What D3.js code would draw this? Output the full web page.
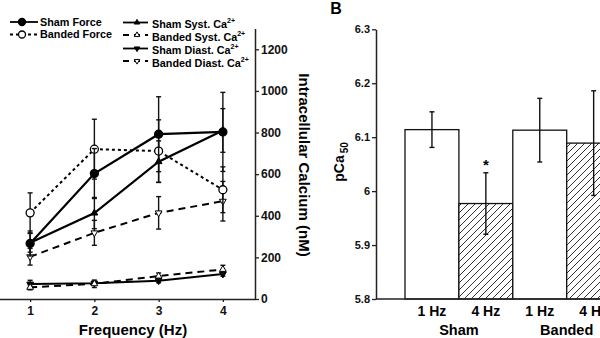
<!DOCTYPE html>
<html><head><meta charset="utf-8">
<script src="https://cdn.jsdelivr.net/npm/d3@7"></script>
<style>
html,body{margin:0;padding:0;background:#fff;}
svg{display:block;font-family:"Liberation Sans",Arial,sans-serif;font-weight:bold;}
</style></head>
<body><svg id="c" width="600" height="338"></svg>
<script>
// ---------- Panel A data ----------
const freqs = [1, 2, 3, 4];
const caTicks = [0, 200, 400, 600, 800, 1000, 1200];
// Force values are expressed in the plotted position relative to the calcium axis
const shamForce = [267, 603, 792, 803];
const shamForceErr = [60, 120, 180, 190];
const bandedForce = [414, 720, 711, 525];
const bandedForceErr = [96, 144, 150, 110];
const shamSystCa = [270, 413, 660, 810];
const shamSystCaErr = [45, 75, 100, 105];
const bandedDiastCa = [203, 318, 414, 470];
const bandedDiastCaErr = [40, 60, 78, 95];
const shamDiastCa = [72, 76, 88, 120];
const shamDiastCaErr = [18, 10, 10, 10];
const bandedSystCa = [56, 73, 110, 142];
const bandedSystCaErr = [12, 18, 15, 20];

// ---------- Panel B data ----------
const barKeys = ["S1", "S4", "B1", "B4"];
const barFreqLabels = ["1 Hz", "4 Hz", "1 Hz", "4 Hz"];
const groupLabels = ["Sham", "Banded"];
const pCa50 = [6.114, 5.977, 6.113, 6.089];
const pCa50Err = [0.033, 0.057, 0.059, 0.097];
const pCaTicks = [5.8, 5.9, 6.0, 6.1, 6.2, 6.3];

const svg = d3.select("#c");

// hatch pattern
const defs = svg.append("defs");
const pat = defs.append("pattern").attr("id","hatch").attr("patternUnits","userSpaceOnUse")
  .attr("width",7).attr("height",7);
pat.append("rect").attr("width",7).attr("height",7).attr("fill","#fff");
pat.append("path").attr("d","M-1,1 l2,-2 M0,7 l7,-7 M6,8 l2,-2")
  .attr("stroke","#333").attr("stroke-width",1);

// ================= Panel A =================
const x = d3.scaleLinear().domain([0.5, 4.5]).range([-2, 255]);
const y = d3.scaleLinear().domain([0, 1300]).range([299, 28.5]);

const gA = svg.append("g");

// right axis
const ax = gA.append("g").attr("transform","translate(255,0)")
  .call(d3.axisRight(y).tickValues(caTicks).tickFormat(d3.format("d")).tickSize(4).tickPadding(2).tickSizeOuter(0));
ax.select(".domain").attr("stroke","#222").attr("stroke-width",1.5);
ax.selectAll(".tick line").attr("stroke","#222").attr("stroke-width",1.3);
ax.selectAll(".tick text").attr("font-size","12px").attr("font-weight","bold")
  .attr("font-family","Liberation Sans, Arial").attr("fill","#111");

// bottom axis
const bx = gA.append("g").attr("transform","translate(0,299)")
  .call(d3.axisBottom(x).tickValues(freqs).tickFormat(d3.format("d")).tickSize(3).tickPadding(4).tickSizeOuter(0));
bx.select(".domain").attr("stroke","#222").attr("stroke-width",1.5);
bx.selectAll(".tick line").attr("stroke","#222").attr("stroke-width",1.3);
bx.selectAll(".tick text").attr("font-size","12px").attr("font-weight","bold")
  .attr("font-family","Liberation Sans, Arial").attr("fill","#111");

gA.append("text").attr("x",133).attr("y",335).attr("text-anchor","middle")
  .attr("font-size","15px").text("Frequency (Hz)");
gA.append("text").attr("transform","translate(299,165) rotate(90)").attr("text-anchor","middle")
  .attr("font-size","15px").text("Intracellular Calcium (nM)");

const series = [
  {name:"Sham Diast", v:shamDiastCa, e:shamDiastCaErr, dash:null, w:2, marker:"tridown", fill:"#000"},
  {name:"Banded Syst", v:bandedSystCa, e:bandedSystCaErr, dash:"7,5", w:2, marker:"triup", fill:"#fff"},
  {name:"Banded Diast", v:bandedDiastCa, e:bandedDiastCaErr, dash:"7,5", w:2, marker:"tridown", fill:"#fff"},
  {name:"Sham Syst", v:shamSystCa, e:shamSystCaErr, dash:null, w:2.2, marker:"triup", fill:"#000"},
  {name:"Banded Force", v:bandedForce, e:bandedForceErr, dash:"3,3", w:2, marker:"circle", fill:"#fff"},
  {name:"Sham Force", v:shamForce, e:shamForceErr, dash:null, w:2.2, marker:"circle", fill:"#000"}
];

const line = d3.line().x((d,i)=>x(freqs[i])).y(d=>y(d));

function drawMarker(g, type, cx, cy, fill, s) {
  if (type === "circle") {
    g.append("circle").attr("cx",cx).attr("cy",cy).attr("r",s)
      .attr("fill",fill).attr("stroke","#000").attr("stroke-width",1.3);
  } else {
    const sym = d3.symbol().type(d3.symbolTriangle).size(s*s*2.2);
    g.append("path").attr("d",sym())
      .attr("transform",`translate(${cx},${cy})` + (type==="tridown"?" rotate(180)":""))
      .attr("fill",fill).attr("stroke","#000").attr("stroke-width",1);
  }
}

series.forEach(s => {
  s.v.forEach((v,i) => {
    const cx = x(freqs[i]);
    const g = gA.append("g").attr("stroke","#111").attr("stroke-width",1.4);
    g.append("line").attr("x1",cx).attr("x2",cx).attr("y1",y(v - s.e[i])).attr("y2",y(v + s.e[i]));
    g.append("line").attr("x1",cx-2.5).attr("x2",cx+2.5).attr("y1",y(v + s.e[i])).attr("y2",y(v + s.e[i]));
    g.append("line").attr("x1",cx-2.5).attr("x2",cx+2.5).attr("y1",y(v - s.e[i])).attr("y2",y(v - s.e[i]));
  });
  gA.append("path").attr("d",line(s.v)).attr("fill","none").attr("stroke","#000")
    .attr("stroke-width",s.w).attr("stroke-dasharray",s.dash);
  s.v.forEach((v,i) => drawMarker(gA, s.marker, x(freqs[i]), y(v), s.fill, s.marker==="circle"?4:3));
});

// legends
const leg1 = [
  {label:"Sham Force", dash:null, marker:"circle", fill:"#000", y:22},
  {label:"Banded Force", dash:"3,3", marker:"circle", fill:"#fff", y:34.5}
];
leg1.forEach(l => {
  gA.append("line").attr("x1",10).attr("x2",38).attr("y1",l.y).attr("y2",l.y)
    .attr("stroke","#000").attr("stroke-width",1.8).attr("stroke-dasharray",l.dash);
  drawMarker(gA, l.marker, 22, l.y, l.fill, 3.5);
  gA.append("text").attr("x",40).attr("y",l.y+3.8).attr("font-size","10.8px").text(l.label);
});
const leg2 = [
  {label:"Sham Syst. Ca", dash:null, marker:"triup", fill:"#000", y:23.5},
  {label:"Banded Syst. Ca", dash:"6,5", marker:"triup", fill:"#fff", y:36},
  {label:"Sham Diast. Ca", dash:null, marker:"tridown", fill:"#000", y:49.5},
  {label:"Banded Diast. Ca", dash:"6,5", marker:"tridown", fill:"#fff", y:62}
];
leg2.forEach(l => {
  gA.append("line").attr("x1",123).attr("x2",148).attr("y1",l.y-1).attr("y2",l.y-1)
    .attr("stroke","#000").attr("stroke-width",1.8).attr("stroke-dasharray",l.dash);
  drawMarker(gA, l.marker, 137, l.y-1, l.fill, 2.4);
  const t = gA.append("text").attr("x",152).attr("y",l.y+4.5).attr("font-size","10.8px").text(l.label);
  t.append("tspan").attr("font-size","7px").attr("dy",-5).text("2+");
});

// ================= Panel B =================
const yb = d3.scaleLinear().domain([5.8, 6.3]).range([299, 29.3]);
const xb = d3.scaleBand().domain(barKeys).range([405, 620.6]).padding(0);
const gB = svg.append("g");

gB.append("text").attr("x",336).attr("y",14).attr("text-anchor","middle")
  .attr("font-size","16px").text("B");

barKeys.forEach((k,i) => {
  gB.append("rect").attr("x",xb(k)).attr("y",yb(pCa50[i]))
    .attr("width",xb.bandwidth()).attr("height",yb(5.8)-yb(pCa50[i]))
    .attr("fill", i%2===1 ? "url(#hatch)" : "#fff")
    .attr("stroke","#111").attr("stroke-width",1.3);
});
barKeys.forEach((k,i) => {
  const cx = xb(k) + xb.bandwidth()/2;
  const g = gB.append("g").attr("stroke","#111").attr("stroke-width",1.4);
  const t = yb(pCa50[i] + pCa50Err[i]), b = yb(pCa50[i] - pCa50Err[i]);
  g.append("line").attr("x1",cx).attr("x2",cx).attr("y1",t).attr("y2",b);
  g.append("line").attr("x1",cx-2.5).attr("x2",cx+2.5).attr("y1",t).attr("y2",t);
  g.append("line").attr("x1",cx-2.5).attr("x2",cx+2.5).attr("y1",b).attr("y2",b);
  gB.append("text").attr("x",cx).attr("y",316).attr("text-anchor","middle")
    .attr("font-size","14px").text(barFreqLabels[i]);
});
gB.append("text").attr("x", xb("S4")+xb.bandwidth()/2).attr("y", yb(pCa50[1]+pCa50Err[1]) - 3)
  .attr("text-anchor","middle").attr("font-size","15px").text("*");
gB.append("text").attr("x", xb("S4")).attr("y",335).attr("text-anchor","middle")
  .attr("font-size","14.5px").text(groupLabels[0]);
gB.append("text").attr("x", xb("B4")).attr("y",335).attr("text-anchor","middle")
  .attr("font-size","14.5px").text(groupLabels[1]);

const ay = gB.append("g").attr("transform","translate(376,0)")
  .call(d3.axisLeft(yb).tickValues(pCaTicks).tickSize(4).tickPadding(2).tickSizeOuter(0)
    .tickFormat(d => Math.abs(d-6)<1e-9 ? "6" : d3.format(".1f")(d)));
ay.select(".domain").attr("stroke","#222").attr("stroke-width",1.5);
ay.selectAll(".tick line").attr("stroke","#222").attr("stroke-width",1.3);
ay.selectAll(".tick text").attr("font-size","11px").attr("font-weight","bold")
  .attr("font-family","Liberation Sans, Arial").attr("fill","#111");
gB.append("line").attr("x1",376).attr("x2",600).attr("y1",299).attr("y2",299)
  .attr("stroke","#222").attr("stroke-width",1.5);

const yl = gB.append("text").attr("transform","translate(344,162) rotate(-90)")
  .attr("text-anchor","middle").attr("font-size","14px");
yl.append("tspan").text("pCa");
yl.append("tspan").attr("font-size","10px").attr("dy",4).attr("dx",2).text("50");
</script></body></html>
